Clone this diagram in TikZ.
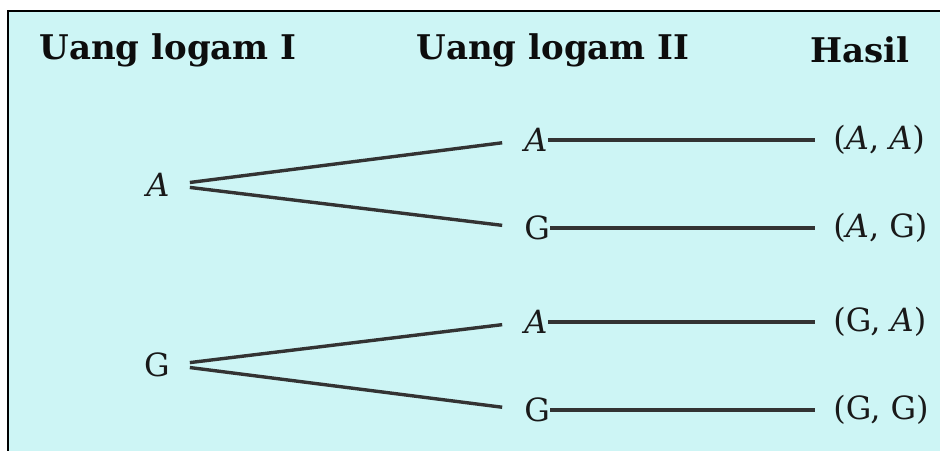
\documentclass[tikz,border=0pt]{standalone}
\usepackage{fontspec}
\setmainfont{DejaVu Serif}
\begin{document}
\begin{tikzpicture}[x=0.5pt,y=-0.5pt,
  hdr/.style={font=\fontsize{17}{20}\selectfont\bfseries, text=black!95, inner sep=0pt},
  lbl/.style={font=\fontsize{16}{19}\selectfont, text=black!90, inner sep=0pt},
  branch/.style={line width=1.7pt, draw=black!80},
  stem/.style={line width=1.6pt, draw=black!80}]
\useasboundingbox (0,0) rectangle (940,450);
\fill[white] (0,0) rectangle (940,450);
\filldraw[fill={rgb,255:red,205;green,245;blue,245}, draw=black, line width=0.8pt] (8,11) rectangle (950,460);
% headers
\node[hdr] (h1) at (168,50) {Uang logam I};
\node[hdr] (h2) at (553,50) {Uang logam II};
\node[hdr] (h3) at (860,50) {Hasil};
% level 1
\node[lbl, anchor=east] (a) at (170,185) {\textit{A}};
\node[lbl, anchor=east] (g) at (170,365) {G};
% level 2
\node[lbl, anchor=west] (aa) at (524,140) {\textit{A}};
\node[lbl, anchor=west] (ag) at (524,228) {G};
\node[lbl, anchor=west] (ga) at (524,322) {\textit{A}};
\node[lbl, anchor=west] (gg) at (524,410) {G};
% results
\node[lbl, anchor=west] (raa) at (833,140) {(\textit{A}, \textit{A})};
\node[lbl, anchor=west] (rag) at (833,228) {(\textit{A}, G)};
\node[lbl, anchor=west] (rga) at (833,322) {(G, \textit{A})};
\node[lbl, anchor=west] (rgg) at (833,410) {(G, G)};
% branches
\foreach \s/\t in {a/aa, a/ag, g/ga, g/gg}
  \draw[branch, shorten <=10pt, shorten >=11pt] (\s.east) -- (\t.west);
\foreach \s/\t in {aa/raa, ag/rag, ga/rga, gg/rgg}
  \draw[stem, shorten >=9pt] (\s.east) -- (\t.west);
\end{tikzpicture}
\end{document}
